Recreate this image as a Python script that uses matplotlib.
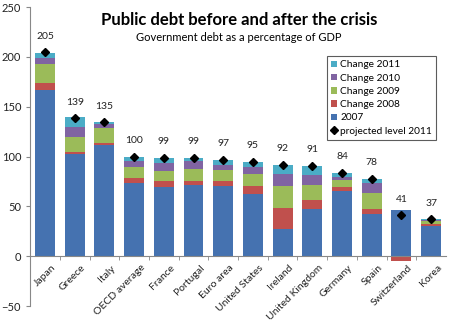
import numpy as np
import matplotlib
matplotlib.use('Agg')
import matplotlib.pyplot as plt
import matplotlib.transforms as mtrans

plt.rcParams['font.family'] = ['Lato', 'DejaVu Sans']

countries = ['Japan', 'Greece', 'Italy', 'OECD average', 'France', 'Portugal',
             'Euro area', 'United States', 'Ireland', 'United Kingdom',
             'Germany', 'Spain', 'Switzerland', 'Korea']
d2007 = [167, 103, 112, 73, 69, 71, 70.5, 62, 27.5, 47.5, 65.5, 42, 46, 30]
c2008 = [7, 1.5, 2, 6, 6, 4.5, 5, 8, 21, 9, 3.5, 5, -5, 2.5]
c2009 = [19, 15, 15, 10.5, 11, 12, 11, 13, 22, 15, 7, 16, 0, 3]
c2010 = [6, 10, 4, 6.5, 8, 8, 5.5, 6.5, 12, 10, 3.5, 10, 0, 0.5]
c2011 = [5, 10, 2, 4, 5, 3, 4.5, 5.5, 9.5, 9, 4, 5, 0, 1.5]
projected = [205, 139, 135, 100, 99, 99, 97, 95, 92, 91, 84, 78, 41, 37]

series = [('2007', d2007, '#4572B0'),
          ('Change 2008', c2008, '#C0504D'),
          ('Change 2009', c2009, '#9BBB59'),
          ('Change 2010', c2010, '#8064A2'),
          ('Change 2011', c2011, '#4BACC6')]

fig = plt.figure(figsize=(4.5, 3.36), dpi=100)
ax = fig.add_axes([0.067, 0.089, 0.924, 0.89])

x = np.arange(len(countries))
pos = np.zeros(len(x))
neg = np.zeros(len(x))
handles = {}
for name, vals, col in series:
    v = np.array(vals, float)
    bot = np.where(v >= 0, pos, neg)
    h = ax.bar(x, v, 0.67, bottom=bot, color=col, label=name, linewidth=0)
    handles[name] = h
    pos = pos + np.where(v >= 0, v, 0)
    neg = neg + np.where(v < 0, v, 0)

dia, = ax.plot(x, projected, 'D', color='black', markersize=4.5, label='projected level 2011')
for i, p in enumerate(projected):
    ax.annotate(str(p), (i, p), xytext=(0, 8), textcoords='offset points',
                ha='center', va='bottom', fontsize=7.5, color='#222222')

ax.set_xlim(-0.5, len(x) - 0.5)
ax.set_ylim(-50, 250)
ax.set_yticks(np.arange(-50, 251, 50))
ax.tick_params(axis='y', labelsize=8, length=3, colors='#888888', labelcolor='#222222')
ax.spines['top'].set_visible(False)
ax.spines['right'].set_visible(False)
ax.spines['left'].set_color('#888888')
ax.spines['bottom'].set_color('#888888')
ax.spines['bottom'].set_position(('data', 0))

ax.set_xticks(x)
ax.set_xticklabels(countries, rotation=45, ha='right', rotation_mode='anchor', fontsize=7.5)
ax.tick_params(axis='x', which='major', length=0, pad=5, labelcolor='#222222')
shift = mtrans.ScaledTranslation(6 / 100, 0, fig.dpi_scale_trans)
for lab in ax.get_xticklabels():
    lab.set_transform(lab.get_transform() + shift)
ax.set_xticks(x[:-1] + 0.5, minor=True)
ax.tick_params(axis='x', which='minor', length=3, direction='out', colors='#888888')

order = ['Change 2011', 'Change 2010', 'Change 2009', 'Change 2008', '2007']
leg = ax.legend([handles[n] for n in order] + [dia], order + ['projected level 2011'],
                loc='upper right', bbox_to_anchor=(0.977, 0.835), fontsize=7.3,
                frameon=True, fancybox=False, edgecolor='#333333',
                handlelength=0.6, handleheight=0.6, handletextpad=0.3,
                labelspacing=0.42, borderpad=0.4, borderaxespad=0)
leg.get_frame().set_linewidth(0.8)

fig.text(0.532, 0.94, 'Public debt before and after the crisis', ha='center',
         va='center', fontsize=12, fontweight='bold')
fig.text(0.53, 0.887, 'Government debt as a percentage of GDP', ha='center',
         va='center', fontsize=8)

fig.savefig('out.png', dpi=100)
